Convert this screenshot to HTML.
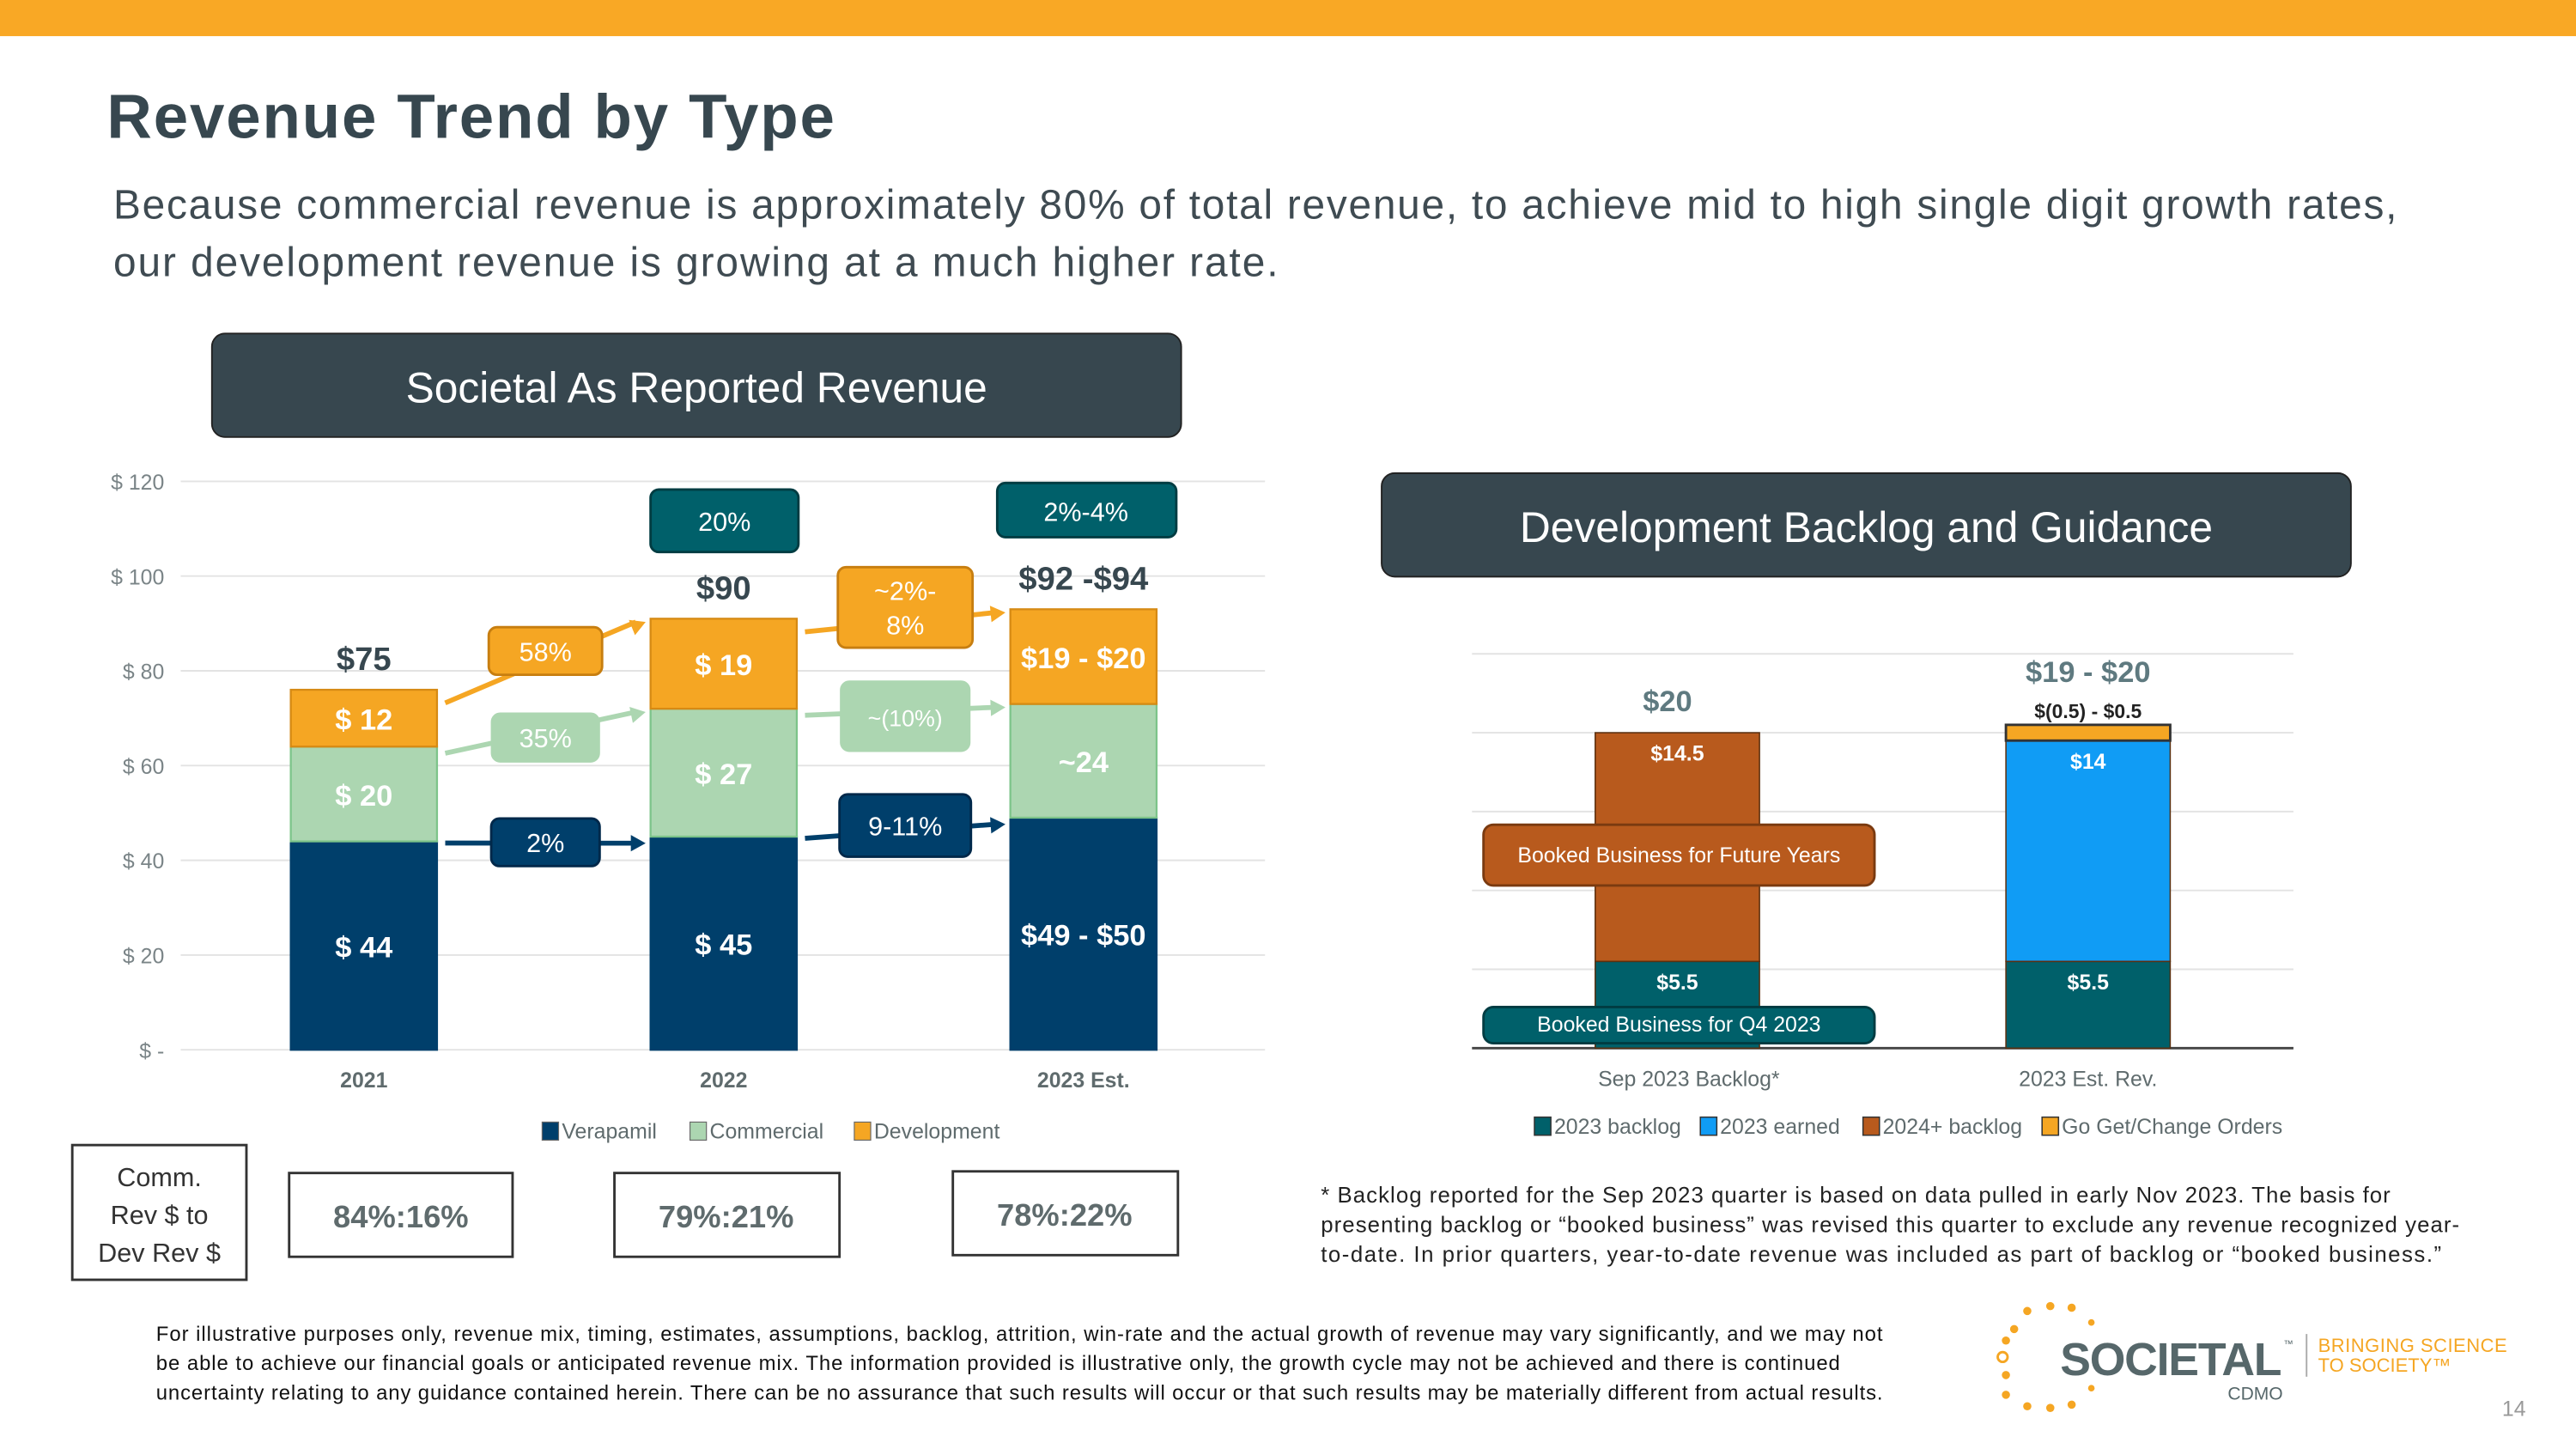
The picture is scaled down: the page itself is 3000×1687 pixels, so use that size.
<!DOCTYPE html>
<html><head><meta charset="utf-8"><style>
html,body{margin:0;padding:0;background:#fff;width:3000px;height:1687px;overflow:hidden}
svg{display:block;font-family:"Liberation Sans",sans-serif}
</style></head><body>
<svg id="s" width="3000" height="1687" viewBox="0 0 1568 882" preserveAspectRatio="none" xmlns="http://www.w3.org/2000/svg">
<rect x="0" y="0" width="1568" height="22" fill="#F9A825"/>
<text x="65" y="84" font-size="38" font-weight="bold" fill="#37474F" textLength="443">Revenue Trend by Type</text>
<text x="69" y="133" font-size="25" fill="#3f4b52" textLength="1390">Because commercial revenue is approximately 80% of total revenue, to achieve mid to high single digit growth rates,</text>
<text x="69" y="168" font-size="25" fill="#3f4b52" textLength="709">our development revenue is growing at a much higher rate.</text>

<rect x="129" y="203" width="590" height="63" rx="8" fill="#37474F" stroke="#222" stroke-width="1"/>
<text x="424" y="245" font-size="26" fill="#fff" text-anchor="middle">Societal As Reported Revenue</text>
<rect x="841" y="288" width="590" height="63" rx="8" fill="#37474F" stroke="#222" stroke-width="1"/>
<text x="1136" y="330" font-size="26" fill="#fff" text-anchor="middle">Development Backlog and Guidance</text>

<g id="left"></g>
<g id="right"></g>

<g font-size="19" font-weight="bold" fill="#5f6b6d" text-anchor="middle">
<rect x="44" y="697" width="106" height="82" fill="#fff" stroke="#333" stroke-width="1.5"/>
<text x="97" y="722" font-size="16" font-weight="normal" fill="#333">Comm.</text>
<text x="97" y="745" font-size="16" font-weight="normal" fill="#333">Rev $ to</text>
<text x="97" y="768" font-size="16" font-weight="normal" fill="#333">Dev Rev $</text>
<rect x="176" y="714" width="136" height="51" fill="#fff" stroke="#333" stroke-width="1.5"/><text x="244" y="747">84%:16%</text>
<rect x="374" y="714" width="137" height="51" fill="#fff" stroke="#333" stroke-width="1.5"/><text x="442" y="747">79%:21%</text>
<rect x="580" y="713" width="137" height="51" fill="#fff" stroke="#333" stroke-width="1.5"/><text x="648" y="746">78%:22%</text>
</g>

<g font-size="13.5" fill="#222">
<text x="804" y="732" textLength="651">* Backlog reported for the Sep 2023 quarter is based on data pulled in early Nov 2023. The basis for</text>
<text x="804" y="750" textLength="693">presenting backlog or “booked business” was revised this quarter to exclude any revenue recognized year-</text>
<text x="804" y="768" textLength="682">to-date. In prior quarters, year-to-date revenue was included as part of backlog or “booked business.”</text>
</g>
<g font-size="12.5" fill="#111">
<text x="95" y="816" textLength="1051">For illustrative purposes only, revenue mix, timing, estimates, assumptions, backlog, attrition, win-rate and the actual growth of revenue may vary significantly, and we may not</text>
<text x="95" y="834" textLength="1025">be able to achieve our financial goals or anticipated revenue mix. The information provided is illustrative only, the growth cycle may not be achieved and there is continued</text>
<text x="95" y="852" textLength="1051">uncertainty relating to any guidance contained herein. There can be no assurance that such results will occur or that such results may be materially different from actual results.</text>
</g>
<g>
<g fill="#F5A623">
<circle cx="1234" cy="798" r="2.5"/><circle cx="1248" cy="795" r="2.5"/><circle cx="1261" cy="796" r="2.5"/><circle cx="1273" cy="805" r="2"/>
<circle cx="1226" cy="809" r="2.5"/><circle cx="1221" cy="849" r="2.5"/><circle cx="1234" cy="856" r="2.5"/><circle cx="1248" cy="857" r="2.5"/><circle cx="1261" cy="855" r="2.5"/><circle cx="1273" cy="845" r="2"/>
<circle cx="1221" cy="816" r="2.5"/><circle cx="1221" cy="837" r="2.5"/>
</g>
<circle cx="1219" cy="826" r="3" fill="none" stroke="#F5A623" stroke-width="1.5"/>
<text x="1254" y="837" font-size="28" font-weight="bold" fill="#56676a" textLength="135">SOCIETAL</text>
<text x="1390" y="820" font-size="6" fill="#56676a">™</text>
<line x1="1404" y1="812" x2="1404" y2="838" stroke="#aaa" stroke-width="1"/>
<text x="1411" y="823" font-size="11.5" fill="#F5A623" textLength="115">BRINGING SCIENCE</text>
<text x="1411" y="835" font-size="11.5" fill="#F5A623">TO SOCIETY™</text>
<text x="1356" y="852" font-size="11" fill="#56676a">CDMO</text>
<text x="1523" y="862" font-size="13" fill="#999">14</text>
</g>
</svg>
<script>
// ---- Left chart data ----
const years = ["2021","2022","2023 Est."];
const verapamil = [44,45,49];
const commercial = [20,27,24];
const development = [12,19,20];
const verLabels = ["$ 44","$ 45","$49 - $50"];
const comLabels = ["$ 20","$ 27","~24"];
const devLabels = ["$ 12","$ 19","$19 - $20"];
const totalLabels = ["$75","$90","$92 -$94"];
const leftTicks = [0,20,40,60,80,100,120];
const leftTickLabels = ["$ -","$ 20","$ 40","$ 60","$ 80","$ 100","$ 120"];
const verGrowth = ["2%","9-11%"];
const comGrowth = ["35%","~(10%)"];
const devGrowth = ["58%","~2%-8%"];
const totGrowth = ["20%","2%-4%"];
// ---- Right chart data ----
const rCats = ["Sep 2023 Backlog*","2023 Est. Rev."];
const backlog2023 = [5.5,5.5];
const earned2023 = [0,14];
const backlog2024 = [14.5,0];
const goGet = [0,1];
const rSegLabels = [["$5.5","","$14.5",""],["$5.5","$14","",""]];
const rTotals = ["$20","$19 - $20"];
const rTicks = [0,5,10,15,20,25];

const NS="http://www.w3.org/2000/svg";
function mk(parent,tag,attrs,txt){const e=document.createElementNS(NS,tag);for(const k in attrs)e.setAttribute(k,attrs[k]);if(txt!==undefined)e.textContent=txt;parent.appendChild(e);return e;}

const L=document.getElementById('left');
const ly=v=>639-v*(346/120);
const lxC=i=>221.5+i*219;
const bw=89;
leftTicks.forEach((t,i)=>{
  const g=mk(L,'line',{x1:110,x2:770,y1:ly(t),y2:ly(t),stroke:'#e3e3e3','stroke-width':1});
  
  
  const tx=mk(L,'text',{x:100,y:ly(t)+5,'font-size':13,fill:'#7a8487','text-anchor':'end'},leftTickLabels[i]);
  
  
});
const segs=[[verapamil,'#003F6B','#003F6B',verLabels],[commercial,'#ACD6B1','#7DC48A',comLabels],[development,'#F5A623','#D68A14',devLabels]];
years.forEach((yr,i)=>{
  let base=0;
  segs.forEach((s,k)=>{
    const v=s[0][i];
    const r=mk(L,'rect',{x:lxC(i)-bw/2,y:ly(base+v),width:bw,height:ly(base)-ly(base+v),fill:s[1],stroke:s[2],'stroke-width':1.2});
    
    
    const t=mk(L,'text',{x:lxC(i),y:(ly(base)+ly(base+v))/2+7,'font-size':18,'font-weight':'bold',fill:'#fff','text-anchor':'middle'},s[3][i]);
    
    
    base+=v;
  });
  const tt=mk(L,'text',{x:lxC(i),y:ly(base)-12,'font-size':20,'font-weight':'bold',fill:'#37474F','text-anchor':'middle'},totalLabels[i]);
  
  
  const xl=mk(L,'text',{x:lxC(i),y:662,'font-size':13,'font-weight':'bold',fill:'#5f6b6d','text-anchor':'middle'},yr);
  
  
});
function callout(parent,i,yFrom,yTo,text,fill,stroke,tcol,arrowCol,w,h,yBox,name){
  const x1=lxC(i)+bw/2+5, x2=lxC(i+1)-bw/2-3;
  const cx=(x1+x2)/2;
  const ln=mk(parent,'line',{x1:x1,y1:yFrom,x2:x2-6,y2:yTo,stroke:arrowCol,'stroke-width':3});
  
  
  const ang=Math.atan2(yTo-yFrom,x2-x1);
  const p=[[x2,yTo],[x2-9*Math.cos(ang)+5*Math.sin(ang),yTo-9*Math.sin(ang)-5*Math.cos(ang)],[x2-9*Math.cos(ang)-5*Math.sin(ang),yTo-9*Math.sin(ang)+5*Math.cos(ang)]];
  const ah=mk(parent,'polygon',{points:p.map(q=>q.join(',')).join(' '),fill:arrowCol});
  
  
  const r=mk(parent,'rect',{x:cx-w/2,y:yBox-h/2,width:w,height:h,rx:5,fill:fill,stroke:stroke,'stroke-width':1.5});
  
  
  const lines=text==="~2%-8%"?["~2%-","8%"]:[text];
  lines.forEach((s,j)=>{
    const t=mk(parent,'text',{x:cx,y:yBox+6+(j-(lines.length-1)/2)*21,'font-size':text==="~(10%)"?14:16,fill:tcol,'text-anchor':'middle'},s);
    
    
  });
}
const tops=years.map((_,i)=>verapamil[i]+commercial[i]+development[i]);
const comTops=years.map((_,i)=>verapamil[i]+commercial[i]);
for(let i=0;i<2;i++){
  callout(L,i,ly(verapamil[i])+1,ly(verapamil[i+1])+4,verGrowth[i],'#003F6B','#00284a','#fff','#003F6B',i?80:66,i?38:29,ly((verapamil[i]+verapamil[i+1])/2)+(i?-1:2),'verapamil-growth');
  callout(L,i,ly(comTops[i])+4,ly(comTops[i+1])+2,comGrowth[i],'#ACD6B1','#ACD6B1','#fff','#ACD6B1',i?78:65,i?42:29,ly((comTops[i]+comTops[i+1])/2)+6,'commercial-growth');
  callout(L,i,ly(tops[i])+8,ly(tops[i+1])+2,devGrowth[i],'#F5A623','#C77E10','#fff','#F5A623',i?82:69,i?49:29,ly((tops[i]+tops[i+1])/2)+(i?-4:-2),'development-growth');
  const tx=[441,661][i], tyB=[317,311][i];
  const r=mk(L,'rect',{x:tx-(i?54:45),y:tyB-(i?17:19),width:i?109:90,height:i?33:38,rx:5,fill:'#00606A',stroke:'#003c42','stroke-width':1.5});
  
  
  const t=mk(L,'text',{x:tx,y:tyB+6,'font-size':16,fill:'#fff','text-anchor':'middle'},totGrowth[i]);
  
  
}
[["Verapamil",'#003F6B',330],["Commercial",'#ACD6B1',420],["Development",'#F5A623',520]].forEach(l=>{
  const r=mk(L,'rect',{x:l[2],y:683,width:10,height:11,fill:l[1],stroke:'#666','stroke-width':0.6});
  
  
  const t=mk(L,'text',{x:l[2]+12,y:693,'font-size':13,fill:'#5f6b6d'},l[0]);
  
  
});

const R=document.getElementById('right');
const ry=v=>638-v*9.6;
const rxC=i=>1021+i*250;
const rbw=100;
rTicks.forEach(t=>{
  const g=mk(R,'line',{x1:896,x2:1396,y1:ry(t),y2:ry(t),stroke:t===0?'#444':'#e3e3e3','stroke-width':t===0?1.5:1});
  
  
});
const rSegs=[[backlog2023,'#00606A','2023-backlog'],[earned2023,'#109CF5','2023-earned'],[backlog2024,'#B85A1D','2024-backlog'],[goGet,'#F5A623','go-get']];
rCats.forEach((c,i)=>{
  let base=0;
  rSegs.forEach((s,k)=>{
    const v=s[0][i]; if(!v) return;
    const r=mk(R,'rect',{x:rxC(i)-rbw/2,y:ry(base+v),width:rbw,height:ry(base)-ry(base+v),fill:s[1],stroke:k===3?'#333':'#5a3010','stroke-width':k===3?1.5:0.8});
    
    
    if(rSegLabels[i][k]){
      const t=mk(R,'text',{x:rxC(i),y:ry(base+v)+17,'font-size':13,'font-weight':'bold',fill:'#fff','text-anchor':'middle'},rSegLabels[i][k]);
      
      
    }
    base+=v;
  });
  if(i===1){
    const t=mk(R,'text',{x:rxC(i),y:ry(base)-4,'font-size':12,'font-weight':'bold',fill:'#222','text-anchor':'middle'},"$(0.5) - $0.5");
    
    
  }
  const tt=mk(R,'text',{x:rxC(i)-(i?0:6),y:ry(base)-(i?26:13),'font-size':18,'font-weight':'bold',fill:'#5f7a80','text-anchor':'middle'},rTotals[i]);
  
  
  const xl=mk(R,'text',{x:rxC(i)-(i?0:-7),y:661,'font-size':13,fill:'#5f6b6d','text-anchor':'middle'},c);
  
  
});
[["Booked Business for Future Years",'#B85A1D','#7a3a10',502,37,525],["Booked Business for Q4 2023",'#00606A','#003c42',613,22,628]].forEach(a=>{
  const r=mk(R,'rect',{x:903,y:a[3],width:238,height:a[4],rx:6,fill:a[1],stroke:a[2],'stroke-width':1.5});
  
  
  const t=mk(R,'text',{x:1022,y:a[5],'font-size':13,fill:'#fff','text-anchor':'middle'},a[0]);
  
  
});
[["2023 backlog",'#00606A',934],["2023 earned",'#109CF5',1035],["2024+ backlog",'#B85A1D',1134],["Go Get/Change Orders",'#F5A623',1243]].forEach(l=>{
  const r=mk(R,'rect',{x:l[2],y:680,width:10,height:11,fill:l[1],stroke:'#333','stroke-width':0.8});
  
  
  const t=mk(R,'text',{x:l[2]+12,y:690,'font-size':13,fill:'#5f6b6d'},l[0]);
  
  
});
</script>
</body></html>
